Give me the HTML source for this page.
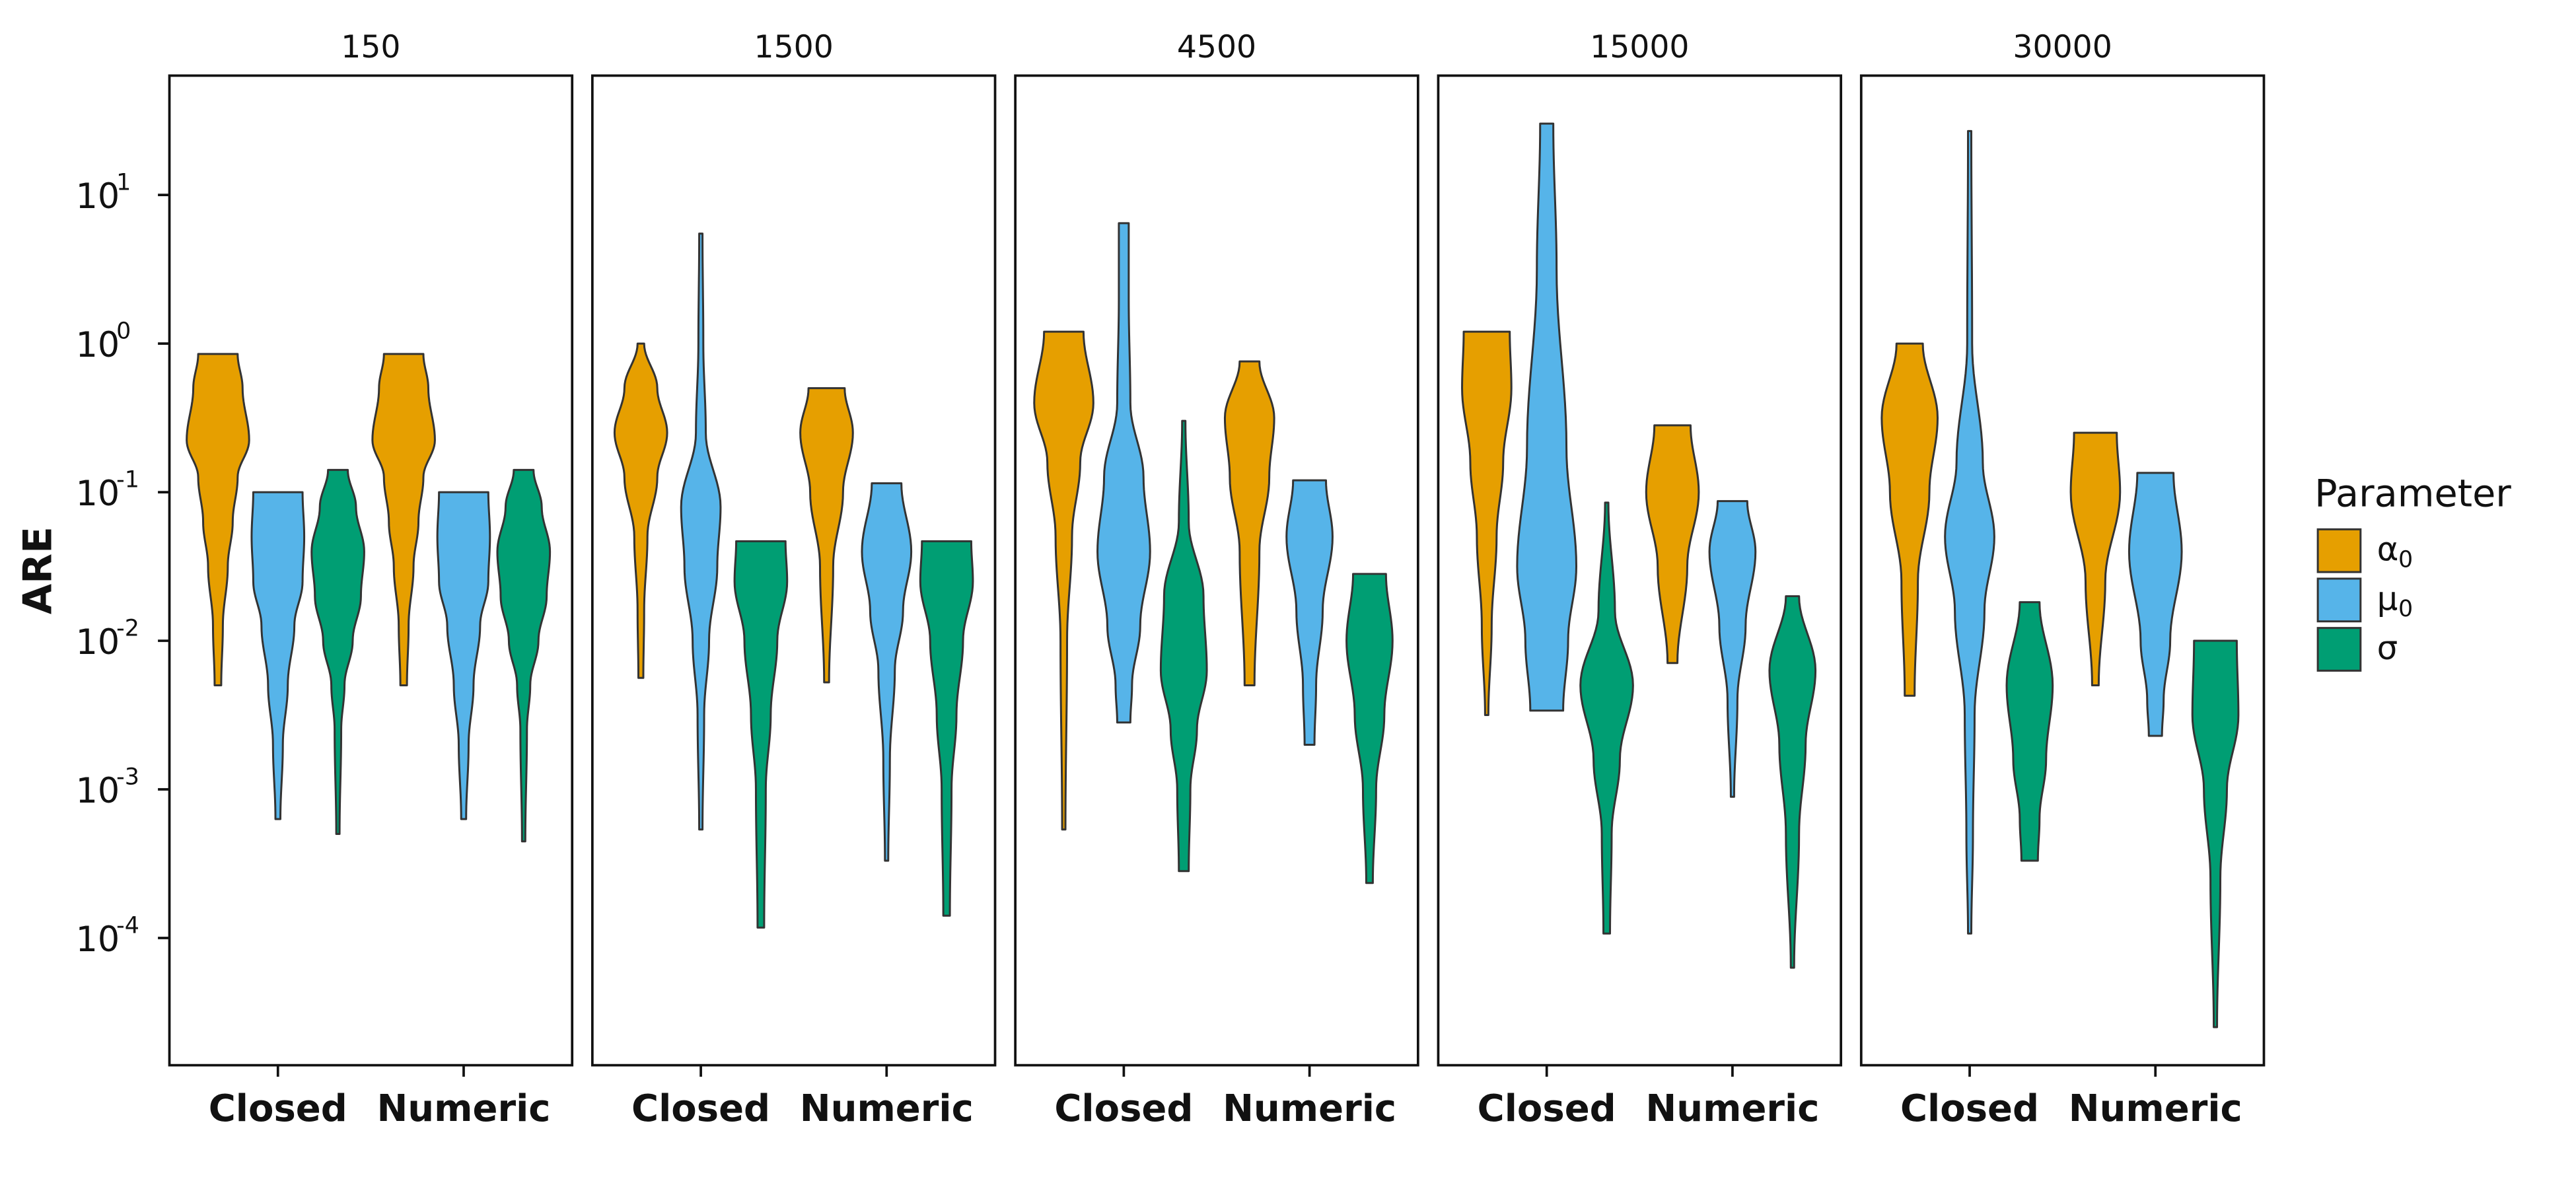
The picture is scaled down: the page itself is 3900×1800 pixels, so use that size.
<!DOCTYPE html>
<html><head><meta charset="utf-8">
<style>html,body{margin:0;padding:0;background:#fff}svg{display:block}text{font-family:"DejaVu Sans","Liberation Sans",sans-serif;fill:#111}</style>
</head><body>
<svg id="chart" width="3900" height="1800" viewBox="0 0 1567 723.3" xmlns="http://www.w3.org/2000/svg"></svg>
<script>
const panelTitles = ["150","1500","4500","15000","30000"];
const methods = ["Closed","Numeric"];
const params = ["alpha0","mu0","sigma"];
const yTickExps = [1,0,-1,-2,-3,-4];
// violin profiles: [log10(ARE), relative half-width] from top to bottom
const p150 = [
 [[[-0.07,12],[-0.3,15],[-0.65,19],[-0.9,12],[-1.2,9],[-1.5,6],[-1.9,3],[-2.3,2]],
  [[-1,15],[-1.3,16],[-1.6,15],[-1.9,10],[-2.3,6],[-2.7,3],[-3.2,1.5]],
  [[-0.85,6],[-1.1,11],[-1.4,16],[-1.7,14],[-2.0,9],[-2.3,4],[-2.6,2],[-3.3,1]]],
 [[[-0.07,12],[-0.3,15],[-0.65,19],[-0.9,12],[-1.2,9],[-1.5,6],[-1.9,3],[-2.3,2]],
  [[-1,15],[-1.3,16],[-1.6,15],[-1.9,10],[-2.3,6],[-2.7,3],[-3.2,1.5]],
  [[-0.85,6],[-1.1,11],[-1.4,16],[-1.7,14],[-2.0,9],[-2.3,4],[-2.6,2],[-3.35,1]]]];
const p1500 = [
 [[[0,2],[-0.3,10],[-0.6,16],[-0.9,10],[-1.3,4],[-1.8,2],[-2.25,1.5]],
  [[0.74,1],[0,1.5],[-0.6,3],[-1.1,12],[-1.5,10],[-2,5],[-2.5,2],[-3.27,1]],
  [[-1.33,15],[-1.6,16],[-2,10],[-2.5,6],[-3,3],[-3.93,2]]],
 [[[-0.3,11],[-0.6,16],[-1,10],[-1.5,4],[-2.28,1.5]],
  [[-0.94,9],[-1.4,15],[-1.8,10],[-2.2,5],[-2.8,2],[-3.48,1]],
  [[-1.33,15],[-1.6,16],[-2,10],[-2.5,6],[-3,3],[-3.85,2]]]];
const p4500 = [
 [[[0.08,12],[-0.4,18],[-0.8,10],[-1.3,5],[-2,2],[-3.27,1]],
  [[0.81,3],[0.3,3],[-0.4,4],[-0.9,12],[-1.4,16],[-1.9,10],[-2.3,5],[-2.55,4]],
  [[-0.52,1],[-1.2,3],[-1.7,12],[-2.2,14],[-2.6,8],[-3.0,4],[-3.55,3]]],
 [[[-0.12,6],[-0.5,15],[-0.9,12],[-1.4,6],[-2.3,3]],
  [[-0.92,10],[-1.3,14],[-1.8,8],[-2.3,4],[-2.7,3]],
  [[-1.55,10],[-2,14],[-2.5,9],[-3,4],[-3.63,2]]]];
const p15000 = [
 [[[0.08,14],[-0.3,15],[-0.8,10],[-1.3,6],[-1.9,3],[-2.5,1]],
  [[1.48,4],[0.5,6],[-0.7,12],[-1.5,18],[-2.0,13],[-2.47,10]],
  [[-1.07,1],[-1.8,5],[-2.3,16],[-2.8,8],[-3.3,3],[-3.97,2]]],
 [[[-0.55,11],[-1,16],[-1.5,9],[-2.15,3]],
  [[-1.06,9],[-1.4,14],[-1.9,8],[-2.4,3],[-3.05,1]],
  [[-1.7,4],[-2.2,14],[-2.7,8],[-3.3,4],[-4.2,1]]]];
const p30000 = [
 [[[0,8],[-0.5,17],[-1,12],[-1.6,5],[-2.37,3]],
  [[1.43,1],[0,1.5],[-0.8,8],[-1.3,15],[-1.8,9],[-2.5,3],[-3.3,2],[-3.97,1]],
  [[-1.74,6],[-2.3,14],[-2.8,10],[-3.2,6],[-3.48,5]]],
 [[[-0.6,13],[-1,15],[-1.6,6],[-2.3,2]],
  [[-0.87,11],[-1.4,16],[-2,9],[-2.4,5],[-2.64,4]],
  [[-2,13],[-2.5,14],[-3,7],[-3.6,3],[-4.6,1]]]];
const allData = [p150,p1500,p4500,p15000,p30000];
const colors = ["#E69F00","#56B4E9","#009E73"];

const NS="http://www.w3.org/2000/svg";
const svg=document.getElementById('chart');
function mk(tag,attrs,parent){const e=document.createElementNS(NS,tag);for(const k in attrs)e.setAttribute(k,attrs[k]);(parent||svg).appendChild(e);return e;}
const panelX0=103, panelW=245, panelGap=12.3, panelTop=46, panelBottom=648;
function yScale(lg){return 209-90.4*lg;}
function xPanel(i){return panelX0+i*(panelW+panelGap);}
function xMethod(i,m){return xPanel(i)+66+m*113;}
function interp(prof){
  const out=[];
  for(let k=0;k<prof.length-1;k++){
    const a=prof[k],b=prof[k+1];
    for(let s=0;s<12;s++){const t=s/12;const c=(1-Math.cos(Math.PI*t))/2;out.push([a[0]+(b[0]-a[0])*t,a[1]+(b[1]-a[1])*c]);}
  }
  out.push(prof[prof.length-1]);return out;
}
allData.forEach((panel,i)=>{
  const g=mk('g',{});
  
  
  const r=mk('rect',{x:xPanel(i),y:panelTop,width:panelW,height:panelBottom-panelTop,fill:'none',stroke:'#111','stroke-width':1.5},g);
  
  
  const t=mk('text',{x:xPanel(i)+panelW/2,y:35,'text-anchor':'middle','font-size':19},g);
  t.textContent=panelTitles[i];
  
  
  panel.forEach((meth,m)=>{
    const cx=xMethod(i,m);
    const tk=mk('line',{x1:cx,x2:cx,y1:panelBottom,y2:panelBottom+7,stroke:'#111','stroke-width':1.5},g);
    
    
    const lb=mk('text',{x:cx,y:682,'text-anchor':'middle','font-size':22.5,'font-weight':'bold'},g);
    lb.textContent=methods[m];
    
    
    meth.forEach((prof,h)=>{
      const vx=cx+(h-1)*36.5;
      const pts=interp(prof);
      let d='M'+pts.map(p=>(vx+p[1]).toFixed(2)+','+yScale(p[0]).toFixed(2)).join(' L');
      d+=' L'+pts.slice().reverse().map(p=>(vx-p[1]).toFixed(2)+','+yScale(p[0]).toFixed(2)).join(' L')+' Z';
      const v=mk('path',{d:d,fill:colors[h],stroke:'#333','stroke-width':1.2,'stroke-linejoin':'round'},g);
      
      
    });
  });
});
yTickExps.forEach(e=>{
  const y=yScale(e);
  const l=mk('line',{x1:96,x2:103,y1:y,y2:y,stroke:'#111','stroke-width':1.5});
  
  
  const t=mk('text',{x:46,y:y+8,'font-size':21});
  
  
  t.appendChild(document.createTextNode('10'));
  const s=mk('tspan',{dy:-11,dx:-2,'font-size':14},t);
  s.textContent=String(e);
});
const yl=mk('text',{x:0,y:0,transform:'translate(31,347) rotate(-90)','text-anchor':'middle','font-size':24,'font-weight':'bold'});
yl.textContent='ARE';


const lt=mk('text',{x:1408,y:308,'font-size':23});
lt.textContent='Parameter';


const legLabels=[["α","0"],["μ","0"],["σ",""]];
legLabels.forEach((lab,k)=>{
  const y=322+k*30;
  const b=mk('rect',{x:1410,y:y,width:26,height:26,fill:colors[k],stroke:'#333','stroke-width':1.2});
  
  
  const t=mk('text',{x:1446,y:y+19,'font-size':20});
  t.textContent=lab[0];
  
  
  if(lab[1]){const s=mk('text',{x:1459,y:y+23,'font-size':14});s.textContent=lab[1];
  
  }
});
</script>
</body></html>
